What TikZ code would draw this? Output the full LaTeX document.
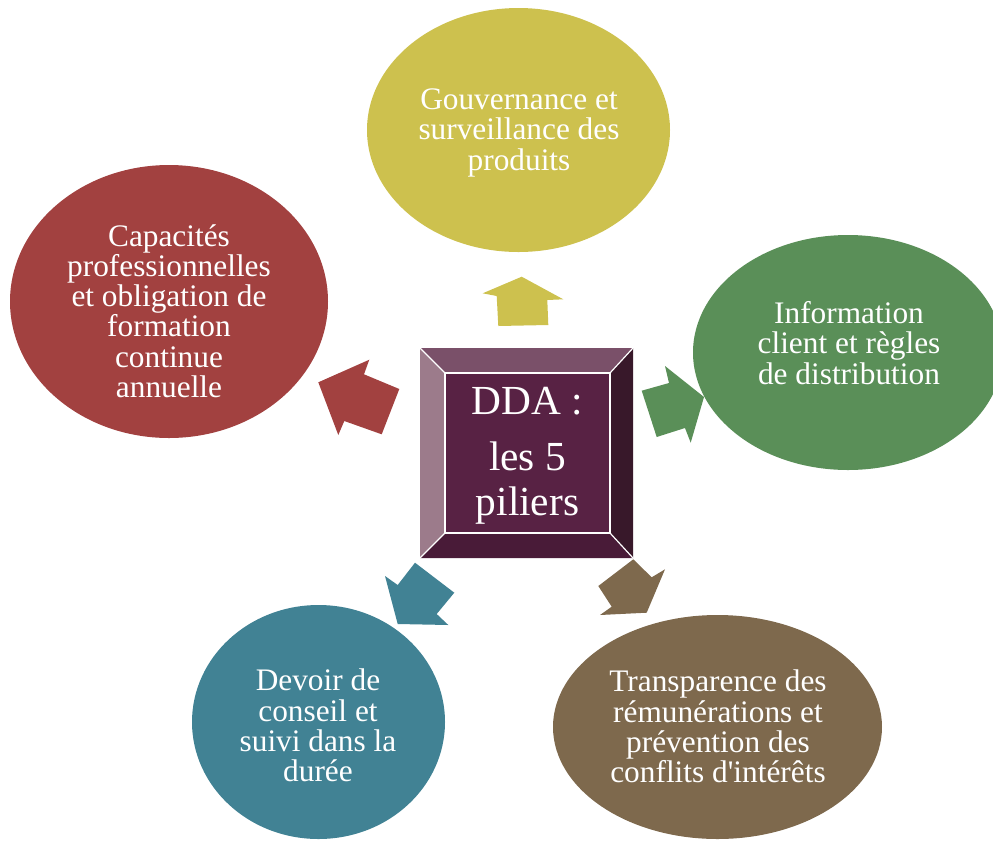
\documentclass[tikz,border=0pt]{standalone}
\usepackage{fontspec}
\setmainfont{Liberation Serif}
\usetikzlibrary{shapes.geometric}
\definecolor{cyel}{HTML}{CDC14E}
\definecolor{cgrn}{HTML}{5A8F58}
\definecolor{cred}{HTML}{A24140}
\definecolor{cteal}{HTML}{418294}
\definecolor{cbrn}{HTML}{7E694D}
\definecolor{bface}{HTML}{582244}
\definecolor{btop}{HTML}{7A5069}
\definecolor{bleft}{HTML}{9C7B8B}
\definecolor{bright}{HTML}{38182A}
\definecolor{bbot}{HTML}{491B38}
\tikzset{
  ell/.style={ellipse, draw=none, inner sep=0pt, outer sep=0pt},
  lbl/.style={text=white, align=center, inner sep=0pt, font=\fontsize{23.5}{22.7}\selectfont},
  clbl/.style={text=white, anchor=base, inner sep=0pt, font=\fontsize{31}{33}\selectfont},
  bevline/.style={draw=white, line width=0.9pt}
}
\begin{document}
\begin{tikzpicture}[x=0.75pt,y=-0.75pt]
\useasboundingbox (0,0) rectangle (993,840);
\clip (0,0) rectangle (993,840);
% arrows
\fill[cyel] (521.7,276.7) -- (563.3,299.3) -- (547.3,300) -- (548.3,325) -- (498.3,326) -- (496.7,296) -- (482.7,293.3) -- cycle;
\fill[cgrn] (704,397) -- (690.7,442.7) -- (685,428) -- (656.7,437) -- (641.7,390.7) -- (669,383) -- (665,366) -- cycle;
\fill[cred] (318.3,382.3) -- (369.3,359.7) -- (364,374.3) -- (399.3,389) -- (381.7,434.3) -- (344.3,421) -- (338.3,435) -- cycle;
\fill[cteal] (397.7,624) -- (385,576) -- (397.7,585) -- (415,562.7) -- (454.3,592.7) -- (436.7,614) -- (448.3,625) -- cycle;
\fill[cbrn] (646.7,612.7) -- (665,569.3) -- (651.7,577.3) -- (633.3,559.3) -- (598.3,586) -- (611.7,606.7) -- (600,615) -- cycle;
% ellipses
\node[ell, fill=cyel, minimum width=227.25pt, minimum height=183pt] (gov) at (518.5,130) {};
\node[ell, fill=cgrn, minimum width=232.5pt, minimum height=176.25pt] (info) at (848,352.5) {};
\node[ell, fill=cred, minimum width=238.5pt, minimum height=204.75pt] (cap) at (169,301.5) {};
\node[ell, fill=cteal, minimum width=189.75pt, minimum height=175.5pt] (dev) at (318.5,722) {};
\node[ell, fill=cbrn, minimum width=246.75pt, minimum height=168pt] (tran) at (717.5,727) {};
\node[lbl] (govt) at (519,132.7) {Gouvernance et\\surveillance des\\produits};
\node[lbl] (infot) at (849,343) {Information\\client et règles\\de distribution};
\node[lbl] (capt) at (169,311) {Capacités\\professionnelles\\et obligation de\\formation\\continue\\annuelle};
\node[lbl] (devt) at (318,725.5) {Devoir de\\conseil et\\suivi dans la\\durée};
\node[lbl] (trant) at (718,726.5) {Transparence des\\rémunérations et\\prévention des\\conflits d\textquotesingle intérêts};
% bevel square
\coordinate (oTL) at (420,348); \coordinate (oTR) at (633,348);
\coordinate (oBR) at (633,558); \coordinate (oBL) at (420,558);
\coordinate (iTL) at (445,373); \coordinate (iTR) at (610,373);
\coordinate (iBR) at (610,533); \coordinate (iBL) at (445,533);
\fill[btop] (oTL) -- (oTR) -- (iTR) -- (iTL) -- cycle;
\fill[bright] (oTR) -- (oBR) -- (iBR) -- (iTR) -- cycle;
\fill[bbot] (oBR) -- (oBL) -- (iBL) -- (iBR) -- cycle;
\fill[bleft] (oBL) -- (oTL) -- (iTL) -- (iBL) -- cycle;
\fill[bface] (iTL) rectangle (iBR);
\draw[bevline] (iTL) rectangle (iBR);
\draw[bevline] (oTL) -- (iTL) (oTR) -- (iTR) (oBR) -- (iBR) (oBL) -- (iBL);
\node[clbl] (c1) at (527.5,414) {DDA :};
\node[clbl] (c2) at (527.5,470) {les 5};
\node[clbl] (c3) at (527.5,515) {piliers};
\end{tikzpicture}
\end{document}
